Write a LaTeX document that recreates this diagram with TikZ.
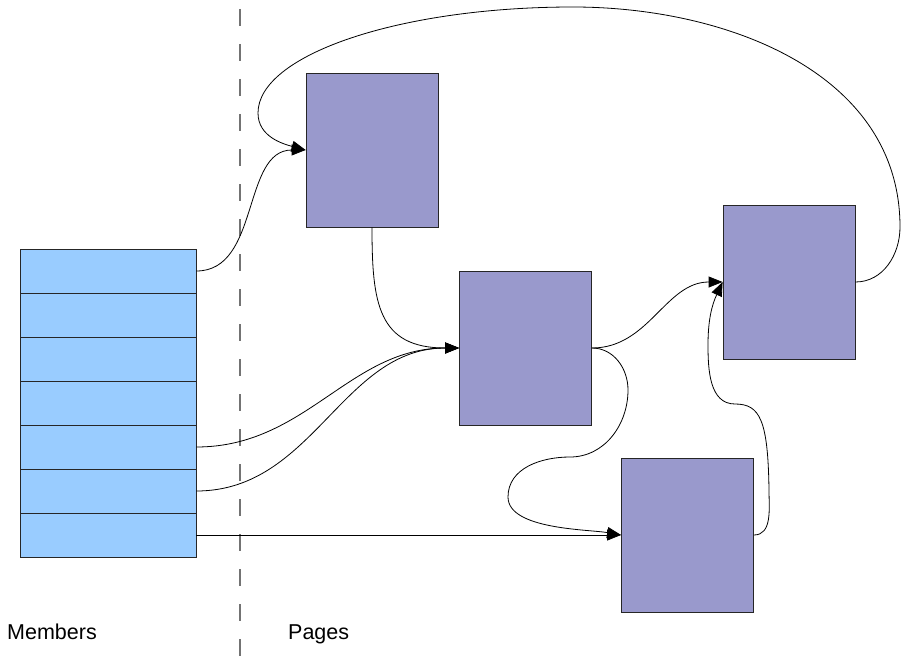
\documentclass[tikz,border=0pt]{standalone}
\usepackage{fontspec}
\setmainfont{Liberation Sans}
\usetikzlibrary{arrows.meta}
\definecolor{memberblue}{HTML}{99CCFF}
\definecolor{pagepurple}{HTML}{9999CC}

\begin{document}
\begin{tikzpicture}[x=1pt,y=1pt,
  member/.style={draw=black!85,fill=memberblue,line width=0.8pt,inner sep=0pt,minimum width=176pt,minimum height=44pt},
  page/.style={draw=black!85,fill=pagepurple,line width=0.8pt,inner sep=0pt,minimum width=132pt,minimum height=154pt},
  link/.style={line width=0.8pt,-{Triangle[length=14pt,width=11pt]}},
  caption/.style={anchor=base west,inner sep=0pt,font=\fontsize{21.5}{26}\selectfont}]

\useasboundingbox (0,0) rectangle (902,-658);

\draw[line width=1.2pt,black!55,dash pattern=on 17pt off 18pt,dash phase=26pt] (240,0) -- (240,-658);

\node[member] (m1) at (108,-271) {};
\node[member] (m2) at (108,-315) {};
\node[member] (m3) at (108,-359) {};
\node[member] (m4) at (108,-403) {};
\node[member] (m5) at (108,-447) {};
\node[member] (m6) at (108,-491) {};
\node[member] (m7) at (108,-535) {};

\node[page] (p1) at (372,-150) {};
\node[page] (p2) at (525.5,-348) {};
\node[page] (p3) at (789,-282) {};
\node[page] (p4) at (687.5,-535) {};

\node[caption] (members) at (7,-639) {Members};
\node[caption] (pages) at (288,-639) {Pages};

\path[link]
	(m1) edge[out=0,in=180] (p1)
	(m5) edge[out=0,in=180] (p2)
	(m6) edge[out=0,in=180] (p2)
	(m7) edge (p4)
	(p1) edge[out=-90,in=180,out looseness=1.3,in looseness=1.4] (p2)
	(p2) edge[out=0,in=180] (p3);

\draw[link] (p2.east) to[out=0,in=90] (628,-390) to[out=-90,in=0] (570,-457)
	to[out=180,in=90] (508,-497) to[out=-90,in=170,looseness=0.7] (p4.west);
\draw[link] (p4.east) to[out=0,in=-90] (769,-490) .. controls (768,-420) and (760,-404) .. (735,-404)
	to[out=180,in=-90] (708,-345) to[out=90,in=-115] (p3.west);
\draw[link] (p3.east) to[out=0,in=-90] (900,-227) to[out=90,in=0] (573,-7)
	.. controls (399,-7) and (258,-55) .. (258,-113) to[out=-90,in=165] (p1.west);

\end{tikzpicture}
\end{document}
